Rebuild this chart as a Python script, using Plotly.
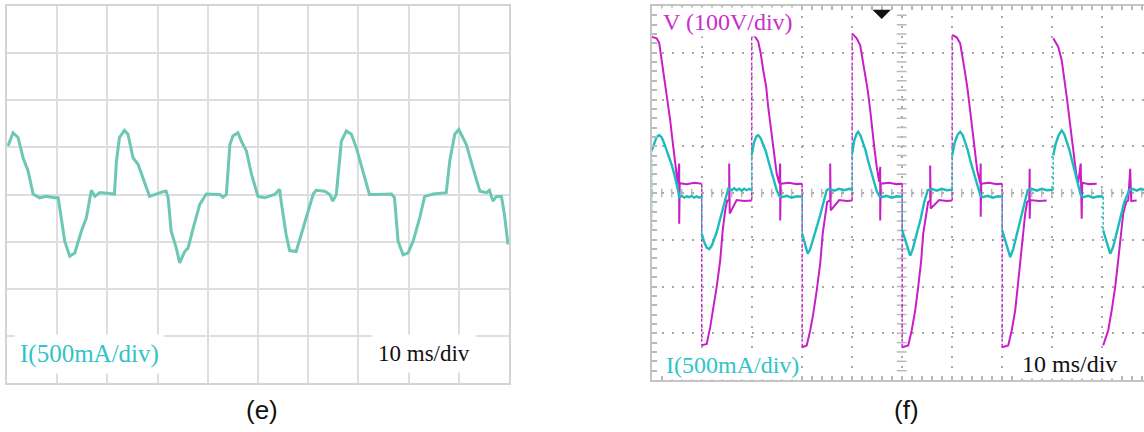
import plotly.graph_objects as go

W, H = 1144, 432

# ---------------- Panel (e): current trace, in graticule divisions ----------------
e_t = [0.02, 0.12, 0.22, 0.32, 0.42, 0.52, 0.65, 0.78, 0.95, 1.02, 1.05, 1.15, 1.25, 1.35, 1.48, 1.58,
       1.68, 1.75, 1.85, 2.14, 2.18, 2.24, 2.34, 2.41, 2.51, 2.61, 2.78, 2.84, 3.11, 3.17, 3.21, 3.27,
       3.37, 3.44, 3.54, 3.61, 3.71, 3.84, 3.97, 4.24, 4.30, 4.37, 4.44, 4.50, 4.60, 4.67, 4.77, 4.87,
       5.00, 5.13, 5.33, 5.43, 5.46, 5.56, 5.63, 5.76, 5.83, 5.96, 6.10, 6.16, 6.33, 6.43, 6.49, 6.56,
       6.66, 6.76, 6.86, 6.96, 7.09, 7.22, 7.36, 7.66, 7.72, 7.79, 7.89, 7.99, 8.09, 8.22, 8.32, 8.49,
       8.75, 8.82, 8.92, 9.00, 9.08, 9.15, 9.28, 9.42, 9.55, 9.61, 9.68, 9.75, 9.85, 9.91, 9.98]
e_i = [1.03, 1.31, 1.21, 0.78, 0.50, 0.01, -0.07, -0.04, -0.07, -0.07, -0.28, -0.99, -1.31, -1.24, -0.78, -0.50,
       0.09, -0.04, 0.04, 0.01, 0.71, 1.21, 1.36, 1.28, 0.78, 0.64, 0.14, -0.04, 0.06, 0.07, -0.07, -0.78,
       -1.13, -1.45, -1.21, -1.13, -0.71, -0.21, 0.01, 0.00, -0.06, 0.00, 1.06, 1.24, 1.31, 1.13, 0.92, 0.43,
       -0.04, -0.07, 0.00, 0.11, -0.14, -0.85, -1.19, -1.21, -0.96, -0.50, 0.01, 0.09, 0.07, 0.00, -0.14, 0.00,
       1.13, 1.35, 1.28, 0.99, 0.50, 0.00, 0.00, 0.01, -0.07, -0.99, -1.28, -1.24, -0.99, -0.50, -0.04, 0.01,
       0.04, 0.71, 1.28, 1.38, 1.21, 1.06, 0.57, 0.07, 0.04, 0.09, -0.14, -0.04, -0.04, -0.43, -1.06]

# ---------------- Panel (f): voltage (None = sampled jump) ----------------
f_v_t = [0.00, 0.10, 0.15, 0.18, 0.22, 0.25, 0.29, 0.33, 0.37, 0.40, 0.43, 0.46, 0.49, 0.52, 0.55, 0.55, 0.56, 0.70, 0.85, 1.00, None,
         1.00, 1.10, 1.17, 1.23, 1.30, 1.37, 1.42, 1.47, 1.51, 1.55, 1.55, 1.56, 1.70, 1.85, 2.00, None,
         2.00, 2.07, 2.13, 2.18, 2.23, 2.29, 2.33, 2.38, 2.42, 2.45, 2.50, 2.55, 2.57, 2.57, 2.58, 2.75, 2.90, 3.01, None,
         3.01, 3.10, 3.17, 3.23, 3.30, 3.37, 3.42, 3.47, 3.51, 3.57, 3.57, 3.58, 3.75, 3.90, 4.01, None,
         4.01, 4.10, 4.17, 4.21, 4.27, 4.32, 4.37, 4.41, 4.45, 4.50, 4.55, 4.57, 4.57, 4.58, 4.75, 4.90, 5.01, None,
         5.01, 5.13, 5.20, 5.27, 5.33, 5.39, 5.43, 5.49, 5.53, 5.57, 5.57, 5.58, 5.75, 5.90, 6.01, None,
         6.01, 6.10, 6.17, 6.22, 6.27, 6.32, 6.37, 6.41, 6.47, 6.51, 6.57, 6.58, 6.58, 6.59, 6.75, 6.90, 7.01, None,
         7.01, 7.13, 7.20, 7.27, 7.32, 7.37, 7.42, 7.47, 7.51, 7.55, 7.56, 7.56, 7.57, 7.75, 7.90, 8.03, None,
         8.03, 8.13, 8.20, 8.25, 8.30, 8.35, 8.40, 8.45, 8.49, 8.53, 8.58, 8.60, 8.60, 8.61, 8.75, 8.90, 9.03, None,
         9.03, 9.13, 9.20, 9.27, 9.33, 9.39, 9.43, 9.49, 9.53, 9.57, 9.58, 9.58, 9.59, 9.70, 9.85]
f_v = [3.34, 3.31, 3.21, 2.99, 2.70, 2.49, 2.20, 1.84, 1.56, 1.27, 0.99, 0.70, 0.41, 0.20, 0.63, -0.66, 0.21, 0.19, 0.22, 0.20, None,
       -3.26, -3.23, -2.87, -2.51, -2.01, -1.44, -0.80, -0.37, -0.16, -0.16, 0.63, -0.44, -0.15, -0.17, -0.16, None,
       3.38, 3.34, 3.24, 2.99, 2.63, 2.27, 1.84, 1.41, 1.13, 0.77, 0.41, 0.21, 0.63, -0.59, 0.20, 0.22, 0.19, 0.20, None,
       -3.30, -3.26, -2.94, -2.59, -2.09, -1.51, -0.87, -0.44, -0.19, -0.16, 0.63, -0.37, -0.15, -0.17, -0.16, None,
       3.41, 3.31, 3.16, 2.91, 2.56, 2.20, 1.77, 1.34, 0.99, 0.56, 0.24, 0.56, -0.59, 0.20, 0.22, 0.19, 0.20, None,
       -3.30, -3.26, -2.94, -2.51, -2.01, -1.44, -0.87, -0.44, -0.19, -0.16, 0.59, -0.33, -0.15, -0.17, -0.16, None,
       3.38, 3.33, 3.20, 2.91, 2.56, 2.20, 1.77, 1.34, 0.91, 0.49, 0.21, 0.63, -0.51, 0.20, 0.22, 0.19, 0.20, None,
       -3.30, -3.26, -2.94, -2.51, -2.01, -1.44, -0.87, -0.44, -0.19, -0.16, 0.52, -0.55, -0.15, -0.17, -0.16, None,
       3.38, 3.31, 3.13, 2.84, 2.49, 2.06, 1.63, 1.20, 0.77, 0.41, 0.21, 0.63, -0.55, 0.20, 0.22, 0.19, 0.20, None,
       -3.30, -3.26, -2.94, -2.51, -2.01, -1.44, -0.87, -0.44, -0.19, -0.16, 0.52, -0.16, -0.15, -0.17, -0.16]

# ---------------- Panel (f): current (None = sampled jump) ----------------
f_i_t = [0.00, None,
         0.00, 0.05, 0.10, 0.15, 0.20, 0.25, 0.30, 0.35, 0.40, 0.45, 0.50, 0.53, 0.55, 0.60, 0.65, 0.70, 0.75, 0.80, 0.85, 0.90, 0.95, 1.00, None,
         1.00, 1.05, 1.10, 1.15, 1.20, 1.25, 1.30, 1.35, 1.40, 1.45, 1.50, 1.53, 1.60, 1.65, 1.70, 1.75, 1.80, 1.85, 1.90, 1.95, 2.00, None,
         2.00, 2.05, 2.10, 2.13, 2.18, 2.23, 2.28, 2.33, 2.38, 2.43, 2.50, 2.55, 2.60, 2.70, 2.80, 2.90, 3.01, None,
         3.01, 3.07, 3.12, 3.17, 3.23, 3.30, 3.37, 3.43, 3.50, 3.55, 3.65, 3.75, 3.85, 3.95, 4.01, None,
         4.01, 4.05, 4.10, 4.13, 4.18, 4.23, 4.28, 4.33, 4.38, 4.43, 4.50, 4.55, 4.60, 4.70, 4.80, 4.90, 5.01, None,
         5.01, 5.10, 5.17, 5.22, 5.30, 5.38, 5.45, 5.52, 5.60, 5.70, 5.80, 5.90, 6.01, None,
         6.01, 6.06, 6.12, 6.17, 6.22, 6.27, 6.32, 6.37, 6.42, 6.47, 6.52, 6.57, 6.62, 6.72, 6.82, 6.92, 7.01, None,
         7.01, 7.10, 7.17, 7.23, 7.30, 7.38, 7.45, 7.52, 7.60, 7.70, 7.80, 7.90, 8.03, None,
         8.03, 8.08, 8.14, 8.20, 8.25, 8.30, 8.35, 8.40, 8.45, 8.50, 8.55, 8.58, 8.63, 8.73, 8.83, 8.93, 9.03, None,
         9.03, 9.10, 9.17, 9.23, 9.30, 9.38, 9.45, 9.55, 9.62, 9.70, 9.78, 9.85]
f_i = [-0.73, None,
       0.91, 1.06, 1.20, 1.24, 1.19, 1.06, 0.91, 0.74, 0.60, 0.41, 0.20, 0.04, -0.09, -0.06, -0.10, -0.07, -0.09, -0.06, -0.10, -0.07, -0.10, -0.08, None,
       -0.87, -1.05, -1.17, -1.20, -1.13, -0.98, -0.84, -0.63, -0.44, -0.24, -0.02, 0.09, 0.06, 0.10, 0.06, 0.09, 0.05, 0.09, 0.06, 0.09, 0.06, None,
       0.82, 1.10, 1.22, 1.24, 1.17, 1.04, 0.90, 0.70, 0.50, 0.30, 0.06, -0.06, -0.09, -0.06, -0.10, -0.07, -0.08, None,
       -0.87, -1.10, -1.30, -1.20, -1.00, -0.73, -0.47, -0.20, 0.06, 0.09, 0.05, 0.09, 0.06, 0.09, 0.07, None,
       0.85, 1.12, 1.27, 1.31, 1.22, 1.06, 0.90, 0.68, 0.48, 0.28, 0.04, -0.06, -0.09, -0.06, -0.10, -0.07, -0.08, None,
       -0.80, -1.10, -1.34, -1.20, -0.90, -0.55, -0.20, 0.06, 0.09, 0.05, 0.09, 0.06, 0.07, None,
       0.80, 1.08, 1.25, 1.31, 1.24, 1.08, 0.92, 0.70, 0.50, 0.30, 0.10, -0.04, -0.09, -0.06, -0.10, -0.07, -0.08, None,
       -0.80, -1.10, -1.37, -1.20, -0.90, -0.55, -0.20, 0.06, 0.09, 0.05, 0.09, 0.06, 0.07, None,
       0.80, 1.05, 1.24, 1.34, 1.26, 1.10, 0.94, 0.72, 0.52, 0.32, 0.12, -0.04, -0.09, -0.06, -0.10, -0.07, -0.08, None,
       -0.80, -1.05, -1.30, -1.15, -0.85, -0.50, -0.20, 0.06, 0.09, 0.05, 0.09, 0.07]

trigger_t = 4.6  # trigger marker position (divisions)

TEAL = "#6cc8b4"
CYAN = "#1cbcbc"
MAG = "#c81ec8"
SERIF = "Liberation Serif"


def jumps(ts, ys):
    """Dashed connectors across the sampled jumps (None markers)."""
    jx, jy = [], []
    for k, y in enumerate(ys):
        if y is None and 0 < k < len(ys) - 1:
            jx += [ts[k - 1], ts[k + 1], None]
            jy += [ys[k - 1], ys[k + 1], None]
    return jx, jy


fig = go.Figure()

# panel (e)
fig.add_trace(go.Scatter(x=e_t, y=e_i, mode="lines", line=dict(color=TEAL, width=3),
                         xaxis="x", yaxis="y", hoverinfo="skip"))

# panel (f) graticule centre-line ticks
cx = [k * 0.2 for k in range(0, 50)]
cy = [-4 + k * 0.2 for k in range(1, 40)]
fig.add_trace(go.Scatter(x=cx, y=[0] * len(cx), mode="markers",
                         marker=dict(symbol="line-ns", size=6, line=dict(color="#b8b8b8", width=1.5)),
                         xaxis="x2", yaxis="y2", hoverinfo="skip"))
fig.add_trace(go.Scatter(x=[5] * len(cy), y=cy, mode="markers",
                         marker=dict(symbol="line-ew", size=7, line=dict(color="#b8b8b8", width=1.5)),
                         xaxis="x2", yaxis="y2", hoverinfo="skip"))

# panel (f) voltage
vjx, vjy = jumps(f_v_t, f_v)
fig.add_trace(go.Scatter(x=vjx, y=vjy, mode="lines", line=dict(color=MAG, width=1.4, dash="3px,2px"),
                         xaxis="x2", yaxis="y2", hoverinfo="skip"))
fig.add_trace(go.Scatter(x=f_v_t, y=f_v, mode="lines", line=dict(color=MAG, width=2),
                         xaxis="x2", yaxis="y2", hoverinfo="skip", connectgaps=False))
# panel (f) current
ijx, ijy = jumps(f_i_t, f_i)
fig.add_trace(go.Scatter(x=ijx, y=ijy, mode="lines", line=dict(color=CYAN, width=1.4, dash="3px,2px"),
                         xaxis="x2", yaxis="y2", hoverinfo="skip"))
fig.add_trace(go.Scatter(x=f_i_t, y=f_i, mode="lines", line=dict(color=CYAN, width=2.4),
                         xaxis="x2", yaxis="y2", hoverinfo="skip", connectgaps=False))


def px(x):
    return x / W


def py(y):
    return 1 - y / H


axis_common = dict(showticklabels=False, zeroline=False, fixedrange=True)

fig.update_layout(
    width=W, height=H,
    margin=dict(l=0, r=0, t=0, b=0),
    paper_bgcolor="white", plot_bgcolor="white",
    showlegend=False,
    xaxis=dict(domain=[px(7), px(509)], range=[0, 10], dtick=1, tick0=0,
               showgrid=True, gridcolor="#dedede", gridwidth=2,
               showline=True, linecolor="#d4d4d4", linewidth=2, mirror=True, ticks="",
               anchor="y", **axis_common),
    yaxis=dict(domain=[py(383), py(6)], range=[-4, 4], dtick=1, tick0=0,
               showgrid=True, gridcolor="#dedede", gridwidth=2,
               showline=True, linecolor="#d4d4d4", linewidth=2, mirror=True, ticks="",
               anchor="x", **axis_common),
    xaxis2=dict(domain=[px(651.7), 1], range=[0, (W - 651.7) / 50.0], dtick=1, tick0=0,
                showgrid=True, gridcolor="#a8a8a8", gridwidth=1.5, griddash="2px,8px",
                showline=True, linecolor="#c4c4c4", linewidth=2, mirror="ticks",
                ticks="inside", ticklen=4, tickcolor="#b8b8b8", tickwidth=1.5,
                minor=dict(dtick=0.2, ticks="inside", ticklen=4, tickcolor="#b8b8b8", tickwidth=1.5, showgrid=False),
                anchor="y2", **axis_common),
    yaxis2=dict(domain=[py(380), py(6)], range=[-4, 4], dtick=1, tick0=0,
                showgrid=True, gridcolor="#a8a8a8", gridwidth=1.5, griddash="2px,8px",
                showline=True, linecolor="#c4c4c4", linewidth=2, mirror=False,
                ticks="inside", ticklen=5, tickcolor="#b8b8b8", tickwidth=1.5,
                minor=dict(dtick=0.2, ticks="inside", ticklen=5, tickcolor="#b8b8b8", tickwidth=1.5, showgrid=False),
                anchor="x2", **axis_common),
)

ann = []
# panel (e) labels
ann.append(dict(text="I(500mA/div)", x=px(14), y=py(354), xref="paper", yref="paper",
                xanchor="left", yanchor="middle", showarrow=False, bgcolor="white", borderpad=5,
                font=dict(family=SERIF, size=25, color="#30c4c8")))
ann.append(dict(text="10 ms/div", x=px(371), y=py(353), xref="paper", yref="paper",
                xanchor="left", yanchor="middle", showarrow=False, bgcolor="white", borderpad=6,
                font=dict(family=SERIF, size=23, color="#111111")))
# panel (f) labels
ann.append(dict(text="V (100V/div)", x=px(661), y=py(22), xref="paper", yref="paper",
                xanchor="left", yanchor="middle", showarrow=False, bgcolor="white", borderpad=1,
                font=dict(family=SERIF, size=24, color="#c830c8")))
ann.append(dict(text="I(500mA/div)", x=px(664), y=py(365), xref="paper", yref="paper",
                xanchor="left", yanchor="middle", showarrow=False, bgcolor="white", borderpad=1,
                font=dict(family=SERIF, size=24, color="#30c4c8")))
ann.append(dict(text="10 ms/div", x=px(1020), y=py(364), xref="paper", yref="paper",
                xanchor="left", yanchor="middle", showarrow=False, bgcolor="white", borderpad=1,
                font=dict(family=SERIF, size=24, color="#111111")))
# trigger marker
ann.append(dict(text="", x=trigger_t, y=3.72, xref="x2", yref="y2", ax=0, ay=-9,
                showarrow=True, arrowhead=1, arrowsize=1.4, arrowwidth=2.2, arrowcolor="#111111"))
# captions
ann.append(dict(text="(e)", x=px(262), y=py(410), xref="paper", yref="paper",
                xanchor="center", yanchor="middle", showarrow=False,
                font=dict(family="Liberation Sans", size=26, color="#111111")))
ann.append(dict(text="(f)", x=px(906), y=py(410), xref="paper", yref="paper",
                xanchor="center", yanchor="middle", showarrow=False,
                font=dict(family="Liberation Sans", size=26, color="#111111")))
fig.update_layout(annotations=ann)

fig.write_html("out.html", config={"displayModeBar": False},
               post_script="document.body.style.margin='0px';document.body.style.overflow='hidden';")
